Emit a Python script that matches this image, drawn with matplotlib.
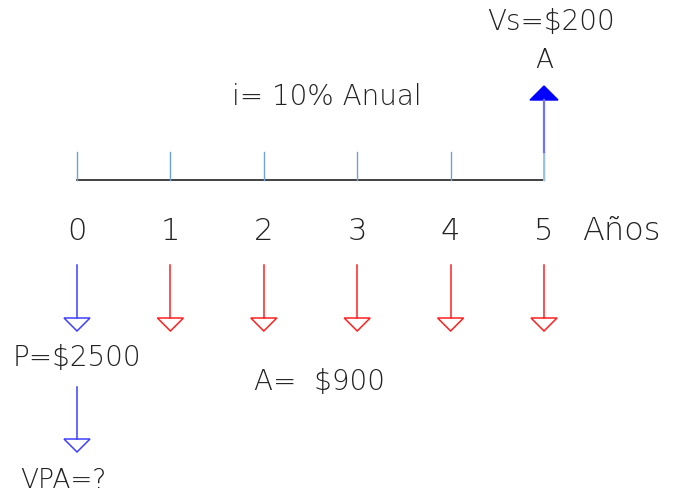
import matplotlib.pyplot as plt
from matplotlib.patches import Polygon

# Cash flow data
periods = [0, 1, 2, 3, 4, 5]
outflow_periods = [0, 1, 2, 3, 4, 5]
outflow_colors = ["#3f3fff", "#ff2020", "#ff2020", "#ff2020", "#ff2020", "#ff2020"]
inflow_period = 5
rate_label = "i= 10% Anual"
payment_label = "A=  $900"
present_label = "P=$2500"
salvage_label = "Vs=$200"
unknown_label = "VPA=?"
unit_label = "Años"

fig = plt.figure(figsize=(6.74, 4.94), dpi=100)
ax = fig.add_axes([0, 0, 1, 1])
ax.set_xlim(0, 674)
ax.set_ylim(494, 0)
ax.axis('off')

x0 = 77
dx = 93.4
axis_y = 180
font = dict(family='DejaVu Sans', fontweight='light', color='#222222')


def px(p):
    return x0 + p * dx


def down_arrow(x, y_top, y_bot, color):
    """Line with an open triangle at the bottom"""
    ax.plot([x, x], [y_top, y_bot], color=color, lw=1.1)
    tri = Polygon([[x - 13, y_bot], [x + 13, y_bot], [x, y_bot + 13]],
                  closed=True, fill=False, edgecolor=color, lw=1.1)
    ax.add_patch(tri)


# time line and ticks
ax.plot([px(periods[0]), px(periods[-1])], [axis_y, axis_y], color='#333333', lw=1.3)
for p in periods:
    ax.plot([px(p), px(p)], [152, axis_y], color='#6fa3d6', lw=1.0)
    ax.text(px(p), 231, str(p), ha='center', va='center', fontsize=22, **font)
ax.text(582, 231, unit_label, ha='left', va='center', fontsize=23, **font)

# outflows
for p, c in zip(outflow_periods, outflow_colors):
    down_arrow(px(p), 265, 318, c)

# present value arrow
down_arrow(px(0), 387, 439, "#3f3fff")

# salvage inflow: light lower part, blue upper part
xs = px(inflow_period)
ax.plot([xs, xs], [axis_y, 152], color='#9cc3e0', lw=1.4)
ax.plot([xs, xs], [152, 100], color='#7070ff', lw=1.6)
ax.add_patch(Polygon([[xs - 14, 100], [xs + 14, 100], [xs, 86]], closed=True,
                     facecolor='#0000ff', edgecolor='#0000ff'))

# labels
ax.text(xs, 60, "A", ha='center', va='center', fontsize=19, **font)
ax.text(551, 22, salvage_label, ha='center', va='center', fontsize=20, **font)
ax.text(327, 97, rate_label, ha='center', va='center', fontsize=20, **font)
ax.text(77, 358, present_label, ha='center', va='center', fontsize=20, **font)
ax.text(320, 382, payment_label, ha='center', va='center', fontsize=20, **font)
ax.text(63, 480, unknown_label, ha='center', va='center', fontsize=19, **font)

fig.savefig('out.png', dpi=100)
